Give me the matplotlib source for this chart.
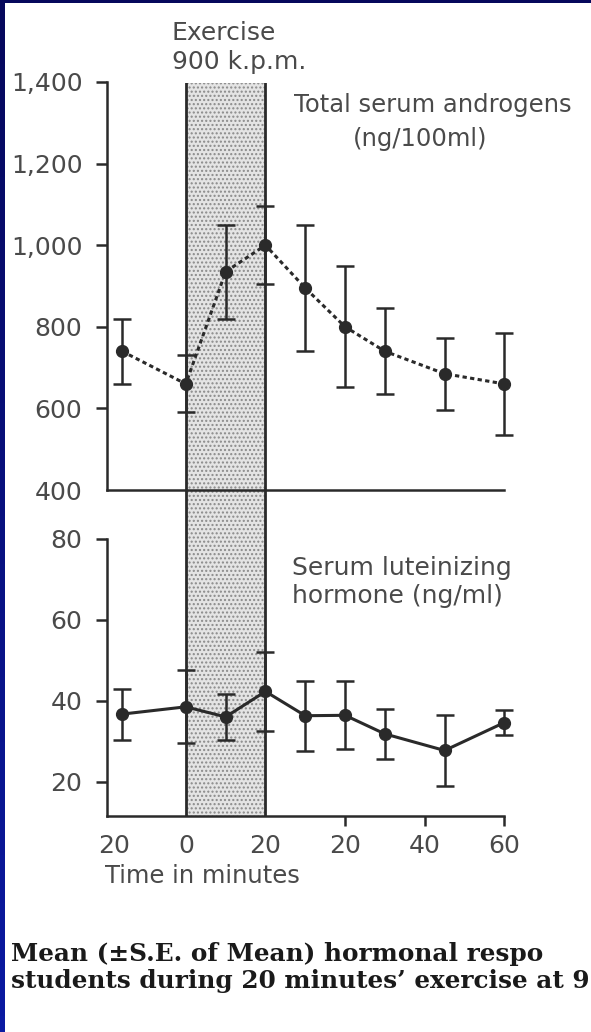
"""Hormonal response to 20 minutes' exercise - androgens (top) and LH (bottom)."""
import numpy as np
import matplotlib
matplotlib.use("Agg")
import matplotlib.pyplot as plt
from matplotlib.colors import LinearSegmentedColormap

W, H = 591, 1032
INK = "#2a2a2a"
TXT = "#4a4a4a"

# time axis: minutes from start of exercise (exercise 0-20, recovery plotted as 20 + r)
times = [-16, 0, 10, 20, 30, 40, 50, 65, 80]
tick_pos = [-18, 0, 20, 40, 60, 80]
tick_labels = ["20", "0", "20", "20", "40", "60"]

androgen_mean = [740, 660, 935, 1000, 895, 800, 740, 685, 660]
androgen_se = [80, 70, 115, 95, 155, 148, 105, 88, 125]

lh_mean = [36.7, 38.5, 36.0, 42.3, 36.3, 36.4, 31.8, 27.7, 34.6]
lh_se = [6.3, 9.0, 5.7, 9.7, 8.7, 8.4, 6.2, 8.8, 3.0]

androgen_ticks = [400, 600, 800, 1000, 1200, 1400]
androgen_labels = ["400", "600", "800", "1,000", "1,200", "1,400"]
lh_ticks = [20, 40, 60, 80]

XLIM = (-19.7, 80)
EXERCISE = (0, 20)


def px(x, y):
    return x / W, 1 - y / H


def box(x0, y0, x1, y1):
    return [x0 / W, 1 - y1 / H, (x1 - x0) / W, (y1 - y0) / H]


def style_axes(ax):
    ax.patch.set_alpha(0)
    ax.set_xlim(*XLIM)
    for s in ["top", "right"]:
        ax.spines[s].set_visible(False)
    for s in ["left", "bottom"]:
        ax.spines[s].set_linewidth(1.8)
        ax.spines[s].set_color(INK)
    ax.tick_params(axis="y", length=8, width=1.8, color=INK, labelcolor=TXT, pad=10,
                   labelsize=18)


def unclip(container):
    for artist in container.get_children():
        artist.set_clip_on(False)


plt.rcParams.update({"font.family": "DejaVu Sans", "font.size": 18})

fig = plt.figure(figsize=(W / 100, H / 100), dpi=100)
fig.patch.set_facecolor("white")

# blue slide border (top and left)
left_strip = fig.add_axes(box(0, 0, 5, H))
left_strip.imshow(np.linspace(0, 1, 64).reshape(-1, 1), aspect="auto",
                  cmap=LinearSegmentedColormap.from_list("b", ["#06085c", "#0b1aa2"]))
left_strip.set_axis_off()
top_strip = fig.add_axes(box(0, 0, W, 3))
top_strip.set_axis_off()
top_strip.add_patch(plt.Rectangle((0, 0), 1, 1, color="#06085c", transform=top_strip.transAxes))

# shaded exercise band running through both panels
band = fig.add_axes(box(107.4, 83, 504.3, 816), zorder=0)
band.set_xlim(*XLIM)
band.axvspan(*EXERCISE, facecolor="#e4e4e4", edgecolor="#8a8a8a", hatch="....", linewidth=0)
for x in EXERCISE:
    band.axvline(x, color=INK, lw=2.0)
band.set_axis_off()

# --- top panel: total serum androgens
ax1 = fig.add_axes(box(107.4, 82, 504.3, 490), zorder=2)
style_axes(ax1)
eb = ax1.errorbar(times, androgen_mean, yerr=androgen_se, fmt="o", linestyle=(0, (1.4, 1.1)),
                  color=INK, lw=2.2, ms=8.5, elinewidth=1.8, capsize=6.5, capthick=1.8)
unclip(eb)
ax1.set_ylim(400, 1400)
ax1.set_yticks(androgen_ticks, androgen_labels)
ax1.set_xticks([])
ax1.yaxis.get_major_ticks()[0].tick1line.set_visible(False)

# --- bottom panel: serum LH
ax2 = fig.add_axes(box(107.4, 539, 504.3, 816), zorder=2)
style_axes(ax2)
eb = ax2.errorbar(times, lh_mean, yerr=lh_se, fmt="o-", color=INK, lw=2.2, ms=8.5,
                  elinewidth=1.8, capsize=6.5, capthick=1.8)
unclip(eb)
ax2.set_ylim(11.5, 80)
ax2.set_yticks(lh_ticks)
ax2.set_xticks(tick_pos, tick_labels)
ax2.tick_params(axis="x", length=7, width=1.8, color=INK, labelcolor=TXT, pad=6,
                labelsize=18)
for tk in ax2.xaxis.get_major_ticks()[:3]:
    tk.tick1line.set_visible(False)

# --- annotations
fig.text(*px(172, 33), "Exercise", ha="left", va="center", color=TXT, fontsize=18)
fig.text(*px(172, 62), "900 k.p.m.", ha="left", va="center", color=TXT, fontsize=18)
fig.text(*px(294, 105), "Total serum androgens", ha="left", va="center", color=TXT,
         fontsize=17.5)
fig.text(*px(420, 139), "(ng/100ml)", ha="center", va="center", color=TXT, fontsize=17.5)
fig.text(*px(292, 568), "Serum luteinizing", ha="left", va="center", color=TXT,
         fontsize=18)
fig.text(*px(292, 596), "hormone (ng/ml)", ha="left", va="center", color=TXT,
         fontsize=18)
fig.text(*px(105, 876), "Time in minutes", ha="left", va="center", color=TXT,
         fontsize=17.5)

# caption, as far as the scan shows it
cap = dict(family="DejaVu Serif", fontweight="bold", fontsize=17.8, color="#1a1a1a",
           ha="left", va="baseline")
fig.text(*px(11, 961), "Mean (\u00b1S.E. of Mean) hormonal respo", **cap)
fig.text(*px(11, 988), "students during 20 minutes\u2019 exercise at 9", **cap)

fig.savefig("out.png", dpi=100)
